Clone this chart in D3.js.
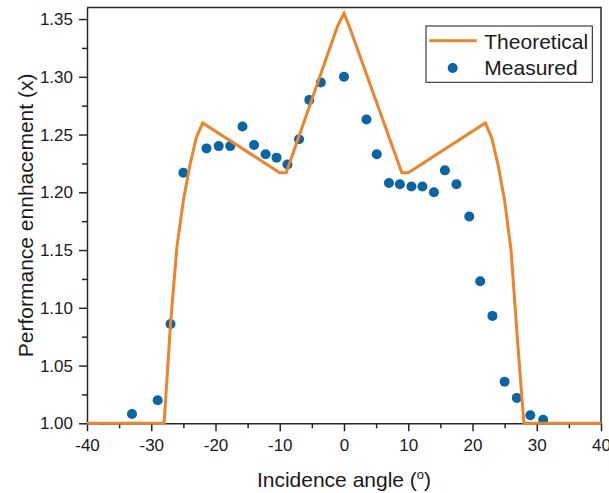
<!DOCTYPE html>
<html>
<head>
    <meta charset="utf-8">
    <title>Performance enhancement vs incidence angle</title>
    <script type="text/javascript" src="https://cdn.jsdelivr.net/npm/d3@7"></script>
    <style>
        body { margin: 0; background: #fff; }
        svg { display: block; font-family: "Liberation Sans", Arial, sans-serif; }
        .axis path, .axis line { stroke: #262626; stroke-width: 1.5; }
        .axis text { fill: #1a1a1a; font-size: 17px; }
    </style>
</head>

<body>

<script type="text/javascript">
    // measured points
    var measuredAngle = [-37.4, -33, -29, -27, -25, -21.4, -19.5, -17.7, -15.8, -14, -12.2, -10.5,
        -8.8, -7, -5.4, -3.6, 0, 3.5, 5.1, 7, 8.7, 10.5, 12.2, 14, 15.7, 17.5, 19.5, 21.2, 23.1,
        25, 26.9, 29, 31];
    var measuredValue = [0.995, 1.008, 1.020, 1.086, 1.217, 1.238, 1.240, 1.240, 1.257, 1.241, 1.233, 1.230,
        1.224, 1.246, 1.280, 1.295, 1.300, 1.263, 1.233, 1.208, 1.207, 1.205, 1.205, 1.200, 1.219, 1.207,
        1.179, 1.123, 1.093, 1.036, 1.022, 1.007, 1.003];

    // theoretical curve (vertices of the polyline)
    var theoryAngle = [-40, -28, -27, -26, -25, -24, -23, -22, -10, -9, -1, 0, 1, 9, 10,
        22, 23, 24, 25, 26, 27, 28, 40];
    var theoryValue = [1.0, 1.0, 1.086, 1.153, 1.193, 1.223, 1.247, 1.260, 1.217, 1.217, 1.344, 1.355,
        1.341, 1.217, 1.217, 1.260, 1.247, 1.223, 1.193, 1.150, 1.072, 1.0, 1.0];

    var xTicks = [-40, -30, -20, -10, 0, 10, 20, 30, 40],
        yTicks = [1.00, 1.05, 1.10, 1.15, 1.20, 1.25, 1.30, 1.35];

    var seriesNames = ["Theoretical", "Measured"];

    var width = 609, height = 493,
        margins = {top: 7.5, left: 87, right: 8, bottom: 69.7},
        orange = "#ee832a", blue = "#0865a8";

    var plotW = width - margins.left - margins.right,
        plotH = height - margins.top - margins.bottom;

    var x = d3.scaleLinear().domain([-40, 40]).range([0, plotW]),
        y = d3.scaleLinear().domain([1.00, 1.36]).range([plotH, 0]);

    var svg = d3.select("body").append("svg")
            .attr("width", width)
            .attr("height", height);

    var g = svg.append("g")
            .attr("transform", "translate(" + margins.left + "," + margins.top + ")");

    g.append("defs").append("clipPath")
            .attr("id", "plot-clip")
        .append("rect")
            .attr("x", 0).attr("y", 0)
            .attr("width", plotW).attr("height", plotH + 1.5);

    // minor ticks first, then major axes on top
    g.append("g")
            .attr("class", "axis")
            .attr("transform", "translate(0," + plotH + ")")
            .call(d3.axisBottom(x).tickValues(d3.range(-35, 40, 10)).tickSize(5).tickFormat(""))
            .call(function (s) { s.select(".domain").remove(); });

    g.append("g")
            .attr("class", "axis")
            .call(d3.axisLeft(y).tickValues(d3.range(1.025, 1.36, 0.05)).tickSize(5).tickFormat(""))
            .call(function (s) { s.select(".domain").remove(); });

    // plain hyphen for negatives, like the original
    g.append("g")
            .attr("class", "axis")
            .attr("transform", "translate(0," + plotH + ")")
            .call(d3.axisBottom(x).tickValues(xTicks).tickSize(8).tickPadding(8).tickSizeOuter(0)
                .tickFormat(function (d) { return String(d); }))
            .selectAll("text").attr("dy", "0.71em");

    g.append("g")
            .attr("class", "axis")
            .call(d3.axisLeft(y).tickValues(yTicks).tickSize(8).tickPadding(6).tickSizeOuter(0)
                .tickFormat(function (d) { return d.toFixed(2); }));

    // top and right frame lines
    g.append("path")
            .attr("d", "M0,0H" + plotW + "V" + plotH)
            .attr("fill", "none")
            .attr("stroke", "#262626")
            .attr("stroke-width", 1.5);

    var body = g.append("g").attr("clip-path", "url(#plot-clip)");

    var measured = measuredAngle.map(function (a, i) { return {x: a, y: measuredValue[i]}; });
    var theory = theoryAngle.map(function (a, i) { return {x: a, y: theoryValue[i]}; });

    body.selectAll("circle.dot")
            .data(measured)
        .enter().append("circle")
            .attr("class", "dot")
            .attr("cx", function (d) { return x(d.x); })
            .attr("cy", function (d) { return y(d.y); })
            .attr("r", 5)
            .attr("fill", blue);

    var line = d3.line()
            .x(function (d) { return x(d.x); })
            .y(function (d) { return y(d.y); });

    body.append("path")
            .datum(theory)
            .attr("d", line)
            .attr("fill", "none")
            .attr("stroke", orange)
            .attr("stroke-width", 3)
            .attr("stroke-linejoin", "miter");

    // axis titles
    var xTitle = svg.append("text")
            .attr("x", margins.left + plotW / 2)
            .attr("y", 486.5)
            .attr("text-anchor", "middle")
            .attr("font-size", 21)
            .attr("fill", "#1a1a1a")
            .text("Incidence angle (");
    xTitle.append("tspan").attr("font-size", 13).attr("dy", -8).text("o");
    xTitle.append("tspan").attr("dy", 8).text(")");

    svg.append("text")
            .attr("transform", "translate(33," + (margins.top + plotH / 2) + ") rotate(-90)")
            .attr("text-anchor", "middle")
            .attr("font-size", 21)
            .attr("fill", "#1a1a1a")
            .text("Performance ennhacement (x)");

    // legend
    var legend = svg.append("g").attr("transform", "translate(426,26)");
    legend.append("rect")
            .attr("x", 0).attr("y", 0)
            .attr("width", 166.3).attr("height", 56.3)
            .attr("fill", "#fff")
            .attr("stroke", "#1a1a1a")
            .attr("stroke-width", 1);
    legend.append("line")
            .attr("x1", 3.3).attr("x2", 50.7)
            .attr("y1", 14.7).attr("y2", 14.7)
            .attr("stroke", orange).attr("stroke-width", 3);
    legend.append("circle")
            .attr("cx", 26.7).attr("cy", 42).attr("r", 5)
            .attr("fill", blue);
    legend.selectAll("text.label")
            .data(seriesNames)
        .enter().append("text")
            .attr("class", "label")
            .attr("x", 58.3)
            .attr("y", function (d, i) { return 23 + i * 26; })
            .attr("font-size", 21)
            .attr("fill", "#1a1a1a")
            .text(function (d) { return d; });
</script>

</body>
</html>
